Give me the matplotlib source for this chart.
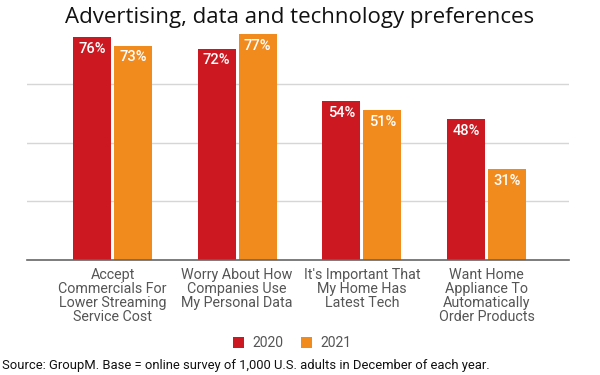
import matplotlib.pyplot as plt
import numpy as np

categories = ['Accept\nCommercials For\nLower Streaming\nService Cost',
              'Worry About How\nCompanies Use\nMy Personal Data',
              "It's Important That\nMy Home Has\nLatest Tech",
              'Want Home\nAppliance To\nAutomatically\nOrder Products']
v2020 = [76, 72, 54, 48]
v2021 = [73, 77, 51, 31]
years = ['2020', '2021']

red = '#cc1820'
orange = '#f28b1e'

fig = plt.figure(figsize=(6, 3.75), dpi=100)
ax = fig.add_axes([0.045, 0.3067, 0.903, 0.6263])

x = np.arange(len(categories))
w = 0.305
off = 0.164
b1 = ax.bar(x - off, v2020, w, color=red, label=years[0], zorder=3)
b2 = ax.bar(x + off, v2021, w, color=orange, label=years[1], zorder=3)

for bars in (b1, b2):
    for b in bars:
        ax.text(b.get_x() + b.get_width() / 2, b.get_height() - 4, f'{int(b.get_height())}%',
                ha='center', va='center', color='white', fontsize=10.5,
                fontweight='medium', family='Roboto', zorder=4)

ax.set_xlim(-0.686, 3.66)
ax.set_ylim(0, 80)
ax.set_yticks([20, 40, 60])
ax.yaxis.grid(True, color='#d6d6d6', linewidth=1, zorder=0)
ax.tick_params(axis='y', length=0, labelleft=False)
ax.tick_params(axis='x', length=0, pad=6)
ax.set_xticks(x)
ax.set_xticklabels(categories, fontsize=10.3, color='#555555', family='Roboto',
                   linespacing=1.0, va='top')
for s in ['top', 'right', 'left']:
    ax.spines[s].set_visible(False)
ax.spines['bottom'].set_color('#666666')
ax.spines['bottom'].set_linewidth(1.2)
ax.spines['bottom'].set_zorder(5)

fig.text(0.5, 0.952, 'Advertising, data and technology preferences', ha='center', va='center',
         fontsize=16, family='Open Sans', color='#111111')

leg = fig.legend(handles=[b1, b2], labels=years, loc='center', bbox_to_anchor=(0.487, 0.085),
                 ncol=2, frameon=False, handlelength=0.8, handleheight=0.8,
                 handletextpad=0.65, columnspacing=1.2, prop={'family': 'Roboto', 'size': 10})
for t in leg.get_texts():
    t.set_color('#555555')

fig.text(0.004, 0.024, 'Source: GroupM. Base = online survey of 1,000 U.S. adults in December of each year.',
         ha='left', va='center', fontsize=9.35, family='Roboto', color='#111111')

fig.savefig('out.png', dpi=100)
